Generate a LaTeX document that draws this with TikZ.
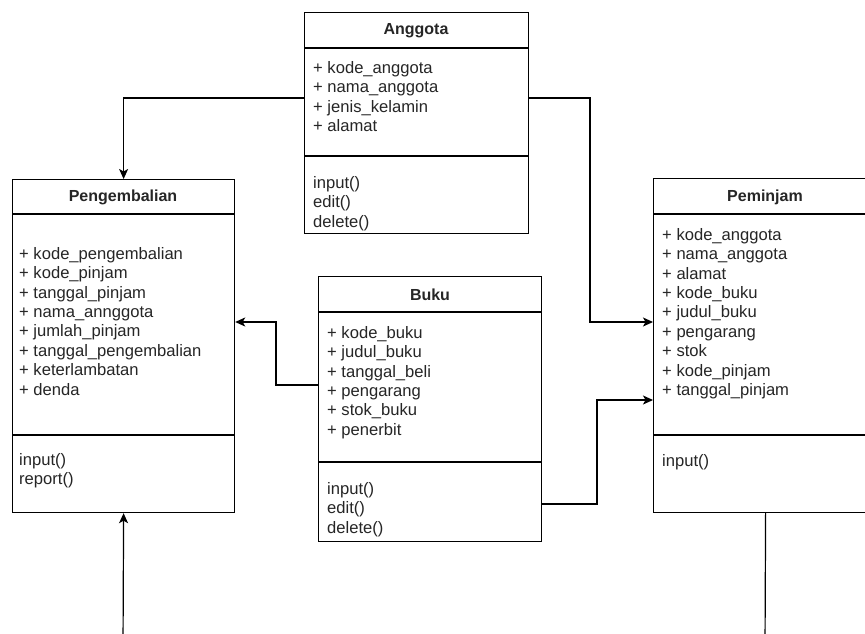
\documentclass[tikz,border=0pt]{standalone}
\usepackage{fontspec}
\setmainfont{Liberation Sans}
\usetikzlibrary{arrows.meta}
\begin{document}
\begin{tikzpicture}[x=1pt,y=-1pt,
  box/.style={draw=black, line width=1.2pt, anchor=north west, inner sep=0pt},
  sep/.style={draw=black, line width=1.2pt},
  ttl/.style={font=\fontsize{16}{19}\selectfont\bfseries, text=black!85, inner sep=0pt},
  txt/.style={font=\fontsize{16.6}{19.4}\selectfont, text=black!85, align=left, anchor=north west, inner sep=0pt},
  conn/.style={draw=black, line width=1.2pt, -{Stealth[length=10pt,width=9pt,inset=2.5pt]}},
  plain/.style={draw=black, line width=1.2pt}]
\useasboundingbox (0,0) rectangle (865,634);
\clip (0,0) rectangle (865,634);
\fill[white] (0,0) rectangle (865,634);

% Anggota
\node[box, minimum width=224pt, minimum height=221pt] (ang) at (304,12) {};
\draw[sep] (ang.west |- 0,48) -- (ang.east |- 0,48);
\draw[sep] (ang.west |- 0,156) -- (ang.east |- 0,156);
\node[ttl] (angt) at (416,31) {Anggota};
\node[txt] (anga) at (313,61) {+ kode\_anggota\\+ nama\_anggota\\+ jenis\_kelamin\\+ alamat};
\node[txt] (angm) at (313,176) {input()\\edit()\\delete()};

% Pengembalian
\node[box, minimum width=222pt, minimum height=333pt] (peng) at (12,179) {};
\draw[sep] (peng.west |- 0,214) -- (peng.east |- 0,214);
\draw[sep] (peng.west |- 0,435) -- (peng.east |- 0,435);
\node[ttl] (pengt) at (123,197) {Pengembalian};
\node[txt] (penga) at (19,247) {+ kode\_pengembalian\\+ kode\_pinjam\\+ tanggal\_pinjam\\+ nama\_annggota\\+ jumlah\_pinjam\\+ tanggal\_pengembalian\\+ keterlambatan\\+ denda};
\node[txt] (pengm) at (19,453) {input()\\report()};

% Peminjam
\node[box, minimum width=224pt, minimum height=334pt] (pem) at (653,178) {};
\draw[sep] (pem.west |- 0,214) -- (pem.east |- 0,214);
\draw[sep] (pem.west |- 0,435) -- (pem.east |- 0,435);
\node[ttl] (pemt) at (765,197) {Peminjam};
\node[txt] (pema) at (662,228) {+ kode\_anggota\\+ nama\_anggota\\+ alamat\\+ kode\_buku\\+ judul\_buku\\+ pengarang\\+ stok\\+ kode\_pinjam\\+ tanggal\_pinjam};
\node[txt] (pemm) at (662,454) {input()};

% Buku
\node[box, minimum width=223pt, minimum height=265pt] (buku) at (318,276) {};
\draw[sep] (buku.west |- 0,312) -- (buku.east |- 0,312);
\draw[sep] (buku.west |- 0,462) -- (buku.east |- 0,462);
\node[ttl] (bukut) at (430,295) {Buku};
\node[txt] (bukua) at (327,326) {+ kode\_buku\\+ judul\_buku\\+ tanggal\_beli\\+ pengarang\\+ stok\_buku\\+ penerbit};
\node[txt] (bukum) at (327,482) {input()\\edit()\\delete()};

% connectors
\coordinate (k2) at (590,322);
\coordinate (k3) at (276,322);
\coordinate (k4) at (597,400);
\coordinate (b1) at (123,650);
\coordinate (b2) at (765,650);
\draw[conn] (ang.west |- 0,98) -| (peng.north);
\draw[conn] (ang.east |- 0,98) -| (k2) -- (pem.west |- k2);
\draw[conn] (buku.west |- 0,385) -| (k3) -- (peng.east |- k3);
\draw[conn] (buku.east |- 0,504) -| (k4) -- (pem.west |- k4);
\draw[conn] (b1) -- (peng.south);
\draw[plain] (pem.south) -- (b2);
\end{tikzpicture}
\end{document}
